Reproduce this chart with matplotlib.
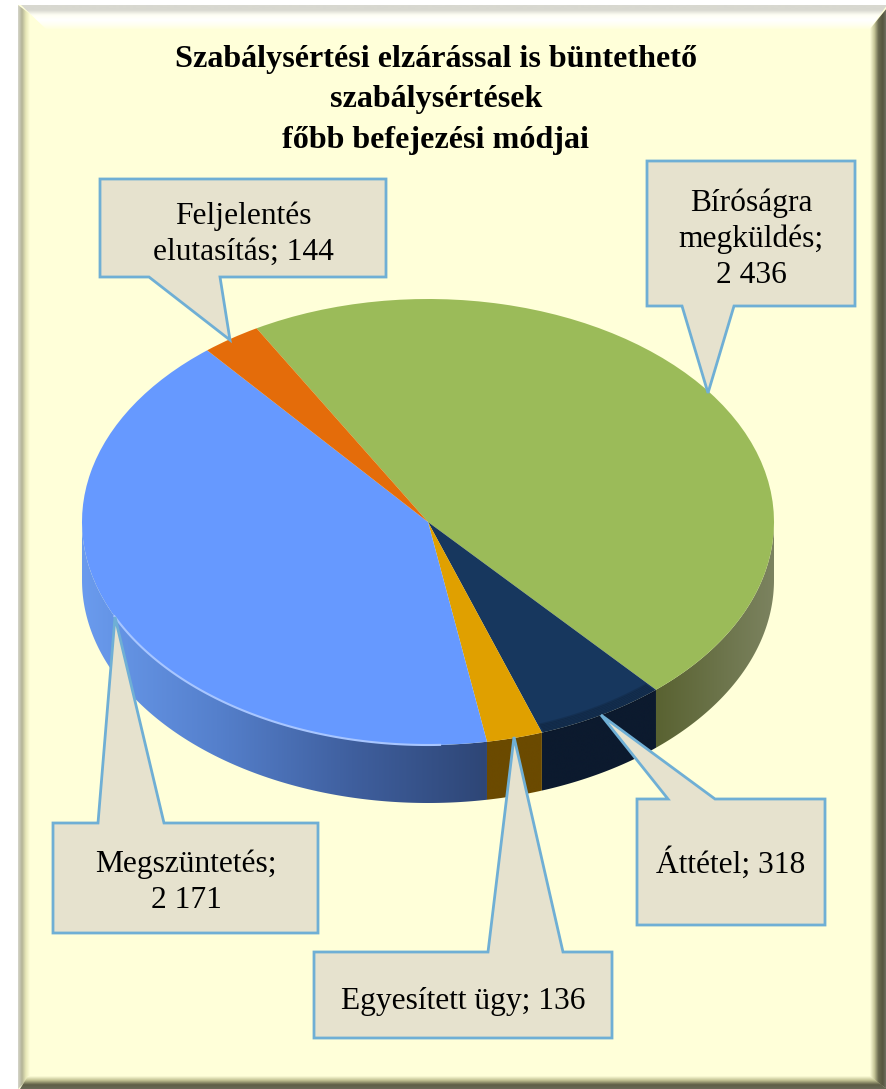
import numpy as np
import matplotlib
matplotlib.use('Agg')
import matplotlib.pyplot as plt
from matplotlib.colors import LinearSegmentedColormap
from matplotlib.patches import Polygon

plt.rcParams['font.family'] = ['Liberation Serif', 'DejaVu Serif']

# data, clockwise from the green slice
names = ['Bíróságra\nmegküldés;\n2 436', 'Áttétel; 318', 'Egyesített ügy; 136',
         'Megszüntetés;\n2 171', 'Feljelentés\nelutasítás; 144']
values = [2436, 318, 136, 2171, 144]
colors = ['#9BBB59', '#17375E', '#E0A000', '#6699FF', '#E46C0A']
title = 'Szabálysértési elzárással is büntethető\nszabálysértések\nfőbb befejezési módjai'

W, H = 887, 1089
cx, cy, rx, ry = 428, 522, 346, 223
depth = 58
start = -29.7  # degrees clockwise from the top

fig = plt.figure(figsize=(W / 100, H / 100), dpi=100, facecolor='white')
ax = fig.add_axes([0, 0, 1, 1])
ax.axis('off')


def gradient(x0, x1, y0, y1, cols, vertical, clip, z=1):
    n = 256
    g = np.linspace(0, 1, n).reshape(-1, 1) if vertical else np.linspace(0, 1, n).reshape(1, -1)
    cmap = LinearSegmentedColormap.from_list('b', cols)
    im = ax.imshow(g, extent=(x0, x1, y1, y0), cmap=cmap, aspect='auto', zorder=z, interpolation='bilinear')
    p = Polygon(clip, transform=ax.transData, fc='none', ec='none')
    ax.add_patch(p)
    im.set_clip_path(p)


# frame
yellow = '#FFFFD9'
ax.add_patch(Polygon([(18, 5), (W, 5), (W, H), (18, H)], fc=yellow, ec='none', zorder=0))
gradient(18, 30, 5, H, ['#D6D6CC', '#B4B496', '#E8E8B8', yellow], False,
         [(18, 5), (30, 14), (30, 1077), (18, H)])
gradient(18, W, 5, 30, ['#D8D8D0', '#D8D8D0', '#FFFFF4', '#FFFFFF', '#FFFFF0', yellow], True,
         [(21, 5), (W, 5), (870, 29), (46, 29)])
gradient(870, W, 5, H, [yellow, '#C8C89A', '#6B6B50', '#55553F', '#77776A'], False,
         [(870, 29), (W, 8), (W, H), (870, 1077)])
gradient(18, W, 1076, H, [yellow, '#C0C090', '#5E5E46', '#6A6A58'], True,
         [(28, 1076), (870, 1076), (W, H), (20, H)])

# side wall of the pie
wall_cols = [['#596231', '#7C8360'], ['#0C1A2E', '#0C1A2E'], ['#6B4A00', '#6B4A00'],
             ['#6A9BEE', '#5580CC', '#3F5F9E', '#2E4676'], ['#6A9BEE', '#6A9BEE']]
edges = start + np.cumsum([0] + values) / sum(values) * 360
for i in range(len(values)):
    a0, a1 = max(edges[i], 90), min(edges[i + 1], 270)
    if a1 <= a0:
        continue
    th = np.radians(np.linspace(a0, a1, 200))
    xs, ys = cx + rx * np.sin(th), cy - ry * np.cos(th)
    outline = list(zip(xs, ys)) + list(zip(xs[::-1], ys[::-1] + depth))
    gradient(xs.min(), xs.max(), cy - 5, cy + ry + depth + 5, wall_cols[i], False, outline, z=2)

ax.set_xlim(0, W)
ax.set_ylim(H, 0)

# top of the pie
pie_ax = fig.add_axes([(cx - rx) / W, 1 - (cy + ry) / H, 2 * rx / W, 2 * ry / H])
pie_ax.pie(values, colors=colors, startangle=90 - start, counterclock=False, radius=1,
           wedgeprops={'linewidth': 0})
pie_ax.set_aspect('auto')
pie_ax.set_xlim(-1, 1)
pie_ax.set_ylim(-1, 1)
pie_ax.set_zorder(3)
pie_ax.patch.set_alpha(0)

# light rim on the blue slice
th = np.radians(np.linspace(178, 245, 120))
pie_ax.plot(np.sin(th), np.cos(th), color='#A8C6FF', lw=1.5, zorder=5, clip_on=False)

# soft dark lip on the navy slice
th = np.radians(np.linspace(edges[1] + 0.3, edges[2] - 0.3, 60))
for k in range(7):
    pie_ax.plot((1 - k * 0.006) * np.sin(th), (1 - k * 0.006) * np.cos(th), color='black',
                alpha=0.13, lw=1.6, zorder=5, solid_capstyle='butt')

# callouts
over = fig.add_axes([0, 0, 1, 1], zorder=4)
over.set_xlim(0, W)
over.set_ylim(H, 0)
over.axis('off')
boxes = [
    (647, 161, 855, 306, 'b', (682, (708, 393), 734)),
    (637, 799, 825, 925, 't', (668, (601, 715), 715)),
    (314, 952, 612, 1038, 't', (488, (514, 737), 563)),
    (53, 823, 318, 933, 't', (98, (115, 617), 164)),
    (100, 179, 386, 277, 'b', (149, (230, 340), 220)),
]
text_pos = [(751, 239), (731, 863), (463, 1001), (186, 882), (243, 234)]
for (x0, y0, x1, y1, side, (t0, tip, t1)), name, (tx, ty) in zip(boxes, names, text_pos):
    if side == 'b':
        pts = [(x0, y0), (x1, y0), (x1, y1), (max(t0, t1), y1), tip, (min(t0, t1), y1), (x0, y1)]
    else:
        pts = [(x0, y0), (t0, y0), tip, (t1, y0), (x1, y0), (x1, y1), (x0, y1)]
    over.add_patch(Polygon(pts, closed=True, fc='#E6E2CE', ec='#6FAFD5', lw=2.0, joinstyle='miter'))
    over.text(tx, ty, name, ha='center', va='center', fontsize=22.7, linespacing=1.3, color='black')

over.text(436, 100, title, ha='center', va='center', fontsize=23.1, fontweight='bold',
          linespacing=1.53, color='black')

fig.savefig('out.png', dpi=100)
